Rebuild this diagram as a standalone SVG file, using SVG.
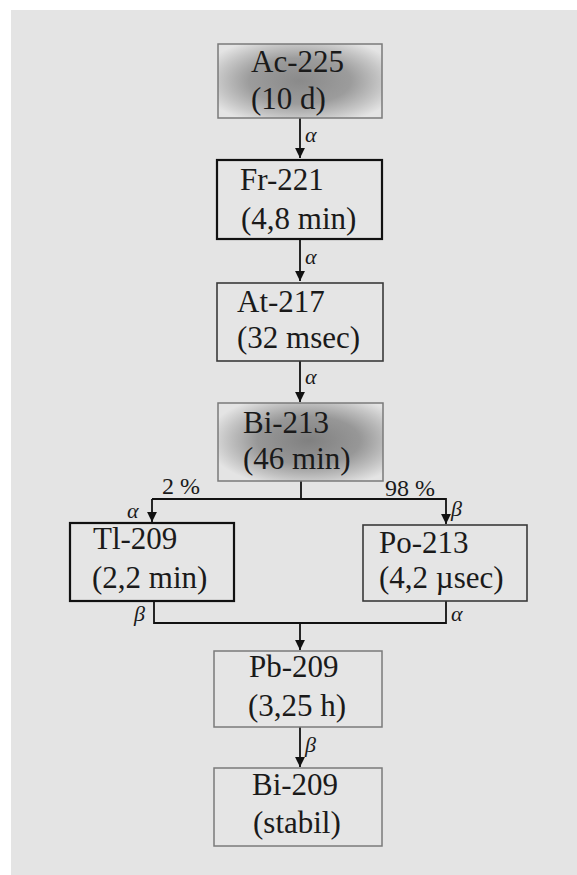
<svg xmlns="http://www.w3.org/2000/svg" width="577" height="875" viewBox="0 0 577 875">
<style>
.t{font-family:'Liberation Serif','DejaVu Serif',serif;font-size:31px;fill:#1a1a1a}
.g{font-family:'Liberation Serif','DejaVu Serif',serif;font-size:22px;font-style:italic;fill:#1a1a1a}
.p{font-family:'Liberation Serif','DejaVu Serif',serif;font-size:24px;fill:#1a1a1a}
.box{fill:#e5e5e5}
.thin{stroke:#7a7a7a;stroke-width:1.5}
.mid{stroke:#3a3a3a;stroke-width:1.6}
.bold{stroke:#111;stroke-width:2.2}
.c{fill:none;stroke:#111;stroke-width:1.8}
</style>
<defs>
<marker id="ah" viewBox="0 0 10 10" refX="10" refY="5" markerWidth="5.5" markerHeight="5.5" orient="auto" markerUnits="strokeWidth">
<path d="M0,0 L10,5 L0,10 z" fill="#111"/>
</marker>
<radialGradient id="sh" cx="0.5" cy="0.5" r="0.62">
<stop offset="0" stop-color="#8a8a8a"/>
<stop offset="0.5" stop-color="#9c9c9c"/>
<stop offset="0.8" stop-color="#c6c6c6"/>
<stop offset="1" stop-color="#e4e4e4"/>
</radialGradient>
<radialGradient id="sh2" cx="0.55" cy="0.48" r="0.62">
<stop offset="0" stop-color="#808080"/>
<stop offset="0.5" stop-color="#979797"/>
<stop offset="0.8" stop-color="#c4c4c4"/>
<stop offset="1" stop-color="#e4e4e4"/>
</radialGradient>
</defs>
<rect x="0" y="0" width="577" height="875" fill="#ffffff"/>
<rect x="11" y="10" width="566" height="865" fill="#e4e4e4"/>

<g id="connectors">
<line class="c" x1="300" y1="118" x2="300" y2="158" marker-end="url(#ah)"/>
<line class="c" x1="300" y1="239" x2="300" y2="281" marker-end="url(#ah)"/>
<line class="c" x1="300" y1="361" x2="300" y2="402" marker-end="url(#ah)"/>
<line class="c" x1="301" y1="481" x2="301" y2="499"/>
<polyline class="c" points="152,499 446,499 446,524" marker-end="url(#ah)"/>
<line class="c" x1="152" y1="499" x2="152" y2="522" marker-end="url(#ah)"/>
<polyline class="c" points="154,601 154,623 446,623 446,601"/>
<line class="c" x1="300" y1="623" x2="300" y2="650" marker-end="url(#ah)"/>
<line class="c" x1="300" y1="727" x2="300" y2="767" marker-end="url(#ah)"/>
<text class="g" x="305" y="142">α</text>
<text class="g" x="305" y="264">α</text>
<text class="g" x="305" y="384">α</text>
<text class="p" x="162" y="494">2 %</text>
<text class="p" x="385" y="496">98 %</text>
<text class="g" x="127" y="518">α</text>
<text class="g" x="451" y="516">β</text>
<text class="g" x="134" y="621">β</text>
<text class="g" x="451" y="621">α</text>
<text class="g" x="305" y="752">β</text>
</g>

<g id="ac225">
<rect x="218" y="44" width="164" height="74" fill="url(#sh)" class="thin"/>
<text class="t" x="251" y="72">Ac-225</text>
<text class="t" x="251" y="109">(10 d)</text>
</g>
<g id="fr221">
<rect x="217" y="160" width="165" height="79" class="box bold"/>
<text class="t" x="240" y="190">Fr-221</text>
<text class="t" x="241" y="229">(4,8 min)</text>
</g>
<g id="at217">
<rect x="217" y="283" width="166" height="78" class="box mid"/>
<text class="t" x="237" y="312">At-217</text>
<text class="t" x="237" y="348">(32 msec)</text>
</g>
<g id="bi213">
<rect x="218" y="403" width="165" height="78" fill="url(#sh2)" class="thin"/>
<text class="t" x="243" y="433">Bi-213</text>
<text class="t" x="243" y="469">(46 min)</text>
</g>
<g id="tl209">
<rect x="70" y="523" width="164" height="78" class="box bold"/>
<text class="t" x="93" y="549">Tl-209</text>
<text class="t" x="92" y="588">(2,2 min)</text>
</g>
<g id="po213">
<rect x="363" y="525" width="164" height="76" class="box mid"/>
<text class="t" x="379" y="553">Po-213</text>
<text class="t" x="379" y="588">(4,2 µsec)</text>
</g>
<g id="pb209">
<rect x="214" y="651" width="168" height="76" class="box thin"/>
<text class="t" x="249" y="677">Pb-209</text>
<text class="t" x="248" y="716">(3,25 h)</text>
</g>
<g id="bi209">
<rect x="214" y="768" width="168" height="78" class="box thin"/>
<text class="t" x="252" y="795">Bi-209</text>
<text class="t" x="253" y="833">(stabil)</text>
</g>
</svg>
